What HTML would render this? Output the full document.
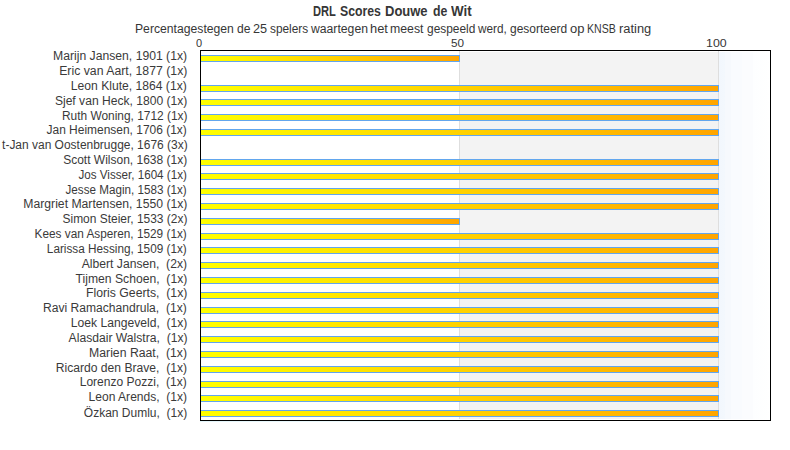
<!DOCTYPE html>
<html><head><meta charset="utf-8"><style>
html,body{margin:0;padding:0;background:#fff;}
body{width:790px;height:450px;position:relative;overflow:hidden;font-family:"Liberation Sans",sans-serif;}
.t{position:absolute;white-space:pre;line-height:1;transform-origin:0 0;}
.lab{position:absolute;right:602.8px;white-space:pre;line-height:1;font-size:12px;color:#3a3a3a;transform-origin:100% 0;}
.bar{position:absolute;left:200px;height:5px;border:1px solid #62a6ee;border-left:none;background:linear-gradient(to right,#ffff00,#ffa500);}
</style></head><body>

<div style="position:absolute;left:201px;top:52px;width:258px;height:367px;background:#fff"></div>
<div style="position:absolute;left:459px;top:51px;width:1px;height:368px;background:#dedede"></div>
<div style="position:absolute;left:460px;top:52px;width:258px;height:367px;background:#f3f3f3"></div>
<div style="position:absolute;left:718px;top:51px;width:1px;height:368px;background:#dedede"></div>
<div style="position:absolute;left:719px;top:52px;width:51px;height:367px;background:linear-gradient(to right,#f2f7fd 0,#f3f8fd 6px,#f6f9fd 6px,#f6f9fd 12px,#f9fbfe 12px,#f9fbfe 23px,#fbfcfe 23px,#fbfcfe 34px,#fdfeff 34px,#fff 51px)"></div>
<div class="bar" style="top:55px;width:259px"></div>
<div class="lab" style="top:50px;transform:scaleX(1.0145)">Marijn Jansen, 1901 (1x)</div>
<div class="lab" style="top:65px;transform:scaleX(1.0227)">Eric van Aart, 1877 (1x)</div>
<div class="bar" style="top:85px;width:518px"></div>
<div class="lab" style="top:80px;transform:scaleX(1.0106)">Leon Klute, 1864 (1x)</div>
<div class="bar" style="top:99px;width:518px"></div>
<div class="lab" style="top:95px;transform:scaleX(1.0085)">Sjef van Heck, 1800 (1x)</div>
<div class="bar" style="top:114px;width:518px"></div>
<div class="lab" style="top:110px;transform:scaleX(0.9920)">Ruth Woning, 1712 (1x)</div>
<div class="bar" style="top:129px;width:518px"></div>
<div class="lab" style="top:124px;transform:scaleX(0.9964)">Jan Heimensen, 1706 (1x)</div>
<div class="lab" style="top:139px;transform:scaleX(0.9970)"><span style="letter-spacing:2.5px">Ger</span>t-Jan van Oostenbrugge, 1676 (3x)</div>
<div class="bar" style="top:159px;width:518px"></div>
<div class="lab" style="top:154px;transform:scaleX(1.0000)">Scott Wilson, 1638 (1x)</div>
<div class="bar" style="top:173px;width:518px"></div>
<div class="lab" style="top:169px;transform:scaleX(0.9693)">Jos Visser, 1604 (1x)</div>
<div class="bar" style="top:188px;width:518px"></div>
<div class="lab" style="top:184px;transform:scaleX(0.9717)">Jesse Magin, 1583 (1x)</div>
<div class="bar" style="top:203px;width:518px"></div>
<div class="lab" style="top:198px;transform:scaleX(1.0169)">Margriet Martensen, 1550 (1x)</div>
<div class="bar" style="top:218px;width:259px"></div>
<div class="lab" style="top:213px;transform:scaleX(0.9960)">Simon Steier, 1533 (2x)</div>
<div class="bar" style="top:233px;width:518px"></div>
<div class="lab" style="top:228px;transform:scaleX(0.9831)">Kees van Asperen, 1529 (1x)</div>
<div class="bar" style="top:247px;width:518px"></div>
<div class="lab" style="top:243px;transform:scaleX(0.9801)">Larissa Hessing, 1509 (1x)</div>
<div class="bar" style="top:262px;width:518px"></div>
<div class="lab" style="top:258px;transform:scaleX(1.0125)">Albert Jansen,  (2x)</div>
<div class="bar" style="top:277px;width:518px"></div>
<div class="lab" style="top:273px;transform:scaleX(1.0128)">Tijmen Schoen,  (1x)</div>
<div class="bar" style="top:292px;width:518px"></div>
<div class="lab" style="top:287px;transform:scaleX(1.0205)">Floris Geerts,  (1x)</div>
<div class="bar" style="top:307px;width:518px"></div>
<div class="lab" style="top:302px;transform:scaleX(1.0071)">Ravi Ramachandrula,  (1x)</div>
<div class="bar" style="top:321px;width:518px"></div>
<div class="lab" style="top:317px;transform:scaleX(1.0106)">Loek Langeveld,  (1x)</div>
<div class="bar" style="top:336px;width:518px"></div>
<div class="lab" style="top:332px;transform:scaleX(1.0120)">Alasdair Walstra,  (1x)</div>
<div class="bar" style="top:351px;width:518px"></div>
<div class="lab" style="top:347px;transform:scaleX(1.0201)">Marien Raat,  (1x)</div>
<div class="bar" style="top:366px;width:518px"></div>
<div class="lab" style="top:362px;transform:scaleX(1.0101)">Ricardo den Brave,  (1x)</div>
<div class="bar" style="top:381px;width:518px"></div>
<div class="lab" style="top:376px;transform:scaleX(1.0029)">Lorenzo Pozzi,  (1x)</div>
<div class="bar" style="top:395px;width:518px"></div>
<div class="lab" style="top:391px;transform:scaleX(1.0041)">Leon Arends,  (1x)</div>
<div class="bar" style="top:410px;width:518px"></div>
<div class="lab" style="top:407px;transform:scaleX(1.0000)">Özkan Dumlu,  (1x)</div>
<div style="position:absolute;left:200px;top:50px;width:569px;height:369px;border:1px solid #000"></div>
<div style="position:absolute;left:200px;top:421px;width:360px;height:1px;background:linear-gradient(to right,#e4f6fb,#eef9fc 60%,#fff)"></div>
<div class="t" style="left:313.24px;top:4px;font-size:14px;font-weight:bold;color:#363636;transform:scaleX(0.7931)">DRL</div>
<div class="t" style="left:340.32px;top:4px;font-size:14px;font-weight:bold;color:#363636;transform:scaleX(0.8760)">Scores</div>
<div class="t" style="left:384.69px;top:4px;font-size:14px;font-weight:bold;color:#363636;transform:scaleX(0.9283)">Douwe</div>
<div class="t" style="left:433.22px;top:4px;font-size:14px;font-weight:bold;color:#363636;transform:scaleX(0.8784)">de</div>
<div class="t" style="left:451.29px;top:4px;font-size:14px;font-weight:bold;color:#363636;transform:scaleX(0.9547)">Wit</div>
<div class="t" style="left:135.37px;top:22.8px;font-size:12px;font-weight:normal;color:#363636;transform:scaleX(1.0151)">Percentagestegen</div>
<div class="t" style="left:237.02px;top:22.8px;font-size:12px;font-weight:normal;color:#363636;transform:scaleX(1.0096)">de</div>
<div class="t" style="left:252.91px;top:22.8px;font-size:12px;font-weight:normal;color:#363636;transform:scaleX(1.0567)">25</div>
<div class="t" style="left:270.00px;top:22.8px;font-size:12px;font-weight:normal;color:#363636;transform:scaleX(0.9882)">spelers</div>
<div class="t" style="left:310.92px;top:22.8px;font-size:12px;font-weight:normal;color:#363636;transform:scaleX(1.0164)">waartegen</div>
<div class="t" style="left:369.72px;top:22.8px;font-size:12px;font-weight:normal;color:#363636;transform:scaleX(1.0731)">het</div>
<div class="t" style="left:390.34px;top:22.8px;font-size:12px;font-weight:normal;color:#363636;transform:scaleX(1.0241)">meest</div>
<div class="t" style="left:427.13px;top:22.8px;font-size:12px;font-weight:normal;color:#363636;transform:scaleX(0.9927)">gespeeld</div>
<div class="t" style="left:478.33px;top:22.8px;font-size:12px;font-weight:normal;color:#363636;transform:scaleX(0.9794)">werd,</div>
<div class="t" style="left:509.93px;top:22.8px;font-size:12px;font-weight:normal;color:#363636;transform:scaleX(0.9966)">gesorteerd</div>
<div class="t" style="left:569.58px;top:22.8px;font-size:12px;font-weight:normal;color:#363636;transform:scaleX(1.0806)">op</div>
<div class="t" style="left:586.89px;top:22.8px;font-size:12px;font-weight:normal;color:#363636;transform:scaleX(0.8810)">KNSB</div>
<div class="t" style="left:618.67px;top:22.8px;font-size:12px;font-weight:normal;color:#363636;transform:scaleX(1.0743)">rating</div>
<div class="t" style="left:195.76px;top:38px;font-size:11px;font-weight:normal;color:#363636;transform:scaleX(0.9988)">0</div>
<div class="t" style="left:450.89px;top:38px;font-size:11px;font-weight:normal;color:#363636;transform:scaleX(1.0659)">50</div>
<div class="t" style="left:706.36px;top:38px;font-size:11px;font-weight:normal;color:#363636;transform:scaleX(1.1254)">100</div>
</body></html>
